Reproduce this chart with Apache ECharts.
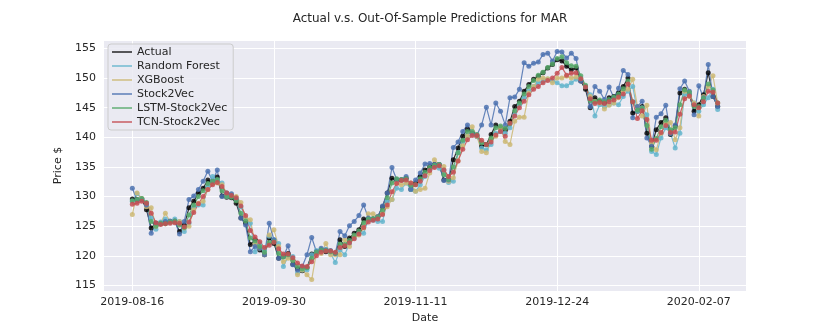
<!DOCTYPE html>
<html>
<head>
<meta charset="utf-8">
<script src="https://cdn.jsdelivr.net/npm/echarts@6/dist/echarts.min.js"></script>
<style>
  html, body { margin: 0; padding: 0; background: #fff; }
  #chart { width: 830px; height: 332px; }
</style>
</head>
<body>
<div id="chart"></div>
<script>
// trading days from 2019-08-16, 125 sessions
const START_DATE = '2019-08-16';
const N_DAYS = 125;
const HOLIDAYS = ['2019-09-02', '2019-11-28', '2019-12-25', '2020-01-01', '2020-01-20'];
const TICK_EVERY = 30;
const PAD = 6;

const ACTUAL = [
  129.6, 129.5, 129.6, 127.8, 124.7, 125.5, 125.4, 125.6, 125.8, 125.8,
  124.1, 125.2, 128.1, 129.2, 130.6, 131.4, 132.8, 132.3, 133.3, 130.1,
  129.9, 129.8, 128.9, 126.4, 125.5, 121.9, 122.7, 121.0, 120.2, 123.0,
  122.1, 119.6, 119.9, 120.4, 118.6, 117.8, 117.5, 118.0, 120.3, 120.7,
  121.0, 120.7, 120.7, 120.4, 122.7, 121.6, 123.0, 123.8, 124.4, 126.2,
  126.2, 126.2, 126.6, 128.3, 130.6, 133.1, 132.8, 132.8, 133.1, 131.2,
  132.3, 133.4, 134.5, 135.1, 135.4, 135.4, 132.8, 132.8, 136.2, 138.2,
  140.2, 141.4, 140.7, 140.2, 138.5, 138.8, 140.5, 142.1, 141.6, 141.3,
  142.7, 145.2, 146.1, 147.8, 148.9, 149.8, 150.3, 150.9, 151.7, 152.3,
  153.1, 152.9, 152.0, 151.4, 151.7, 149.5, 148.1, 145.0, 146.7, 146.1,
  145.8, 146.7, 146.9, 147.5, 148.6, 150.0, 144.1, 144.4, 145.2, 140.7,
  138.5, 141.3, 142.5, 143.3, 140.5, 141.9, 147.5, 148.1, 147.2, 144.4,
  145.5, 147.2, 150.9, 146.9, 145.2
];
const RANDOM_FOREST = [
  129.2, 130.5, 129.6, 128.9, 126.4, 124.5, 125.7, 126.2, 125.7, 126.2,
  125.8, 124.1, 125.5, 128.3, 128.6, 128.6, 131.7, 133.4, 132.8, 132.3,
  130.0, 130.1, 129.8, 128.3, 126.4, 125.5, 120.7, 122.1, 121.0, 123.3,
  122.7, 122.1, 118.2, 119.9, 119.9, 117.1, 117.6, 117.6, 120.2, 120.9,
  120.8, 121.1, 120.4, 118.9, 121.0, 120.2, 122.1, 123.0, 123.8, 123.8,
  126.1, 126.0, 125.8, 125.8, 129.2, 129.5, 131.4, 131.2, 132.3, 131.2,
  130.9, 132.0, 133.4, 134.5, 135.1, 134.8, 134.5, 132.4, 132.6, 137.4,
  139.3, 140.2, 140.5, 140.2, 138.2, 137.9, 138.8, 140.7, 141.0, 140.7,
  141.6, 143.8, 145.5, 146.7, 147.8, 148.6, 149.2, 149.5, 149.8, 149.5,
  149.2, 148.7, 148.7, 149.2, 149.8, 150.0, 148.6, 147.2, 143.6, 145.5,
  145.2, 145.5, 145.8, 145.5, 146.9, 147.8, 148.6, 144.4, 145.0, 143.8,
  137.6, 137.1, 139.9, 141.6, 140.7, 138.2, 140.7, 147.2, 147.2, 145.8,
  144.4, 145.5, 146.7, 148.1, 144.7
];
const XGBOOST = [
  127.0, 130.6, 129.7, 128.3, 128.1, 125.0, 125.5, 127.2, 125.8, 125.8,
  125.8, 124.7, 125.0, 127.8, 128.9, 129.2, 131.2, 132.3, 132.3, 132.0,
  130.6, 130.3, 130.0, 129.0, 126.4, 126.1, 122.1, 121.3, 120.2, 123.5,
  124.4, 121.6, 119.0, 119.6, 119.3, 116.8, 117.6, 116.8, 116.0, 120.6,
  120.4, 122.1, 120.2, 120.2, 120.2, 122.7, 121.6, 123.3, 123.5, 124.7,
  127.1, 127.1, 126.6, 127.2, 128.3, 129.5, 132.3, 132.0, 132.3, 132.3,
  130.9, 131.2, 131.4, 134.0, 136.2, 135.4, 135.1, 132.6, 133.2, 136.0,
  138.6, 140.2, 141.8, 140.2, 137.6, 137.4, 139.6, 140.2, 141.6, 139.3,
  138.8, 142.7, 143.4, 143.4, 147.5, 148.6, 149.8, 150.0, 149.9, 149.2,
  150.0, 150.0, 150.3, 150.0, 150.2, 149.8, 148.6, 146.9, 146.1, 145.8,
  144.8, 145.4, 145.8, 146.7, 147.8, 148.1, 149.8, 145.2, 143.6, 145.4,
  139.0, 137.9, 140.7, 142.4, 142.5, 139.6, 141.6, 147.8, 146.9, 145.8,
  143.6, 146.9, 148.6, 150.4, 145.8
];
const STOCK2VEC = [
  131.4, 129.4, 129.5, 128.6, 123.8, 125.5, 125.5, 125.8, 125.9, 125.9,
  123.7, 125.8, 129.5, 130.1, 131.2, 132.6, 134.3, 132.6, 134.5, 130.0,
  130.6, 130.5, 129.5, 126.4, 125.2, 120.7, 121.6, 121.3, 120.2, 125.5,
  122.7, 119.6, 119.9, 121.7, 118.5, 117.6, 118.2, 120.2, 123.1, 120.7,
  121.3, 121.0, 120.9, 120.4, 124.1, 123.4, 125.1, 125.8, 126.8, 128.6,
  126.4, 126.2, 126.6, 128.4, 130.6, 134.9, 132.9, 132.9, 133.4, 131.3,
  132.8, 134.0, 135.5, 135.6, 135.4, 135.4, 132.7, 132.8, 138.3, 139.2,
  141.0, 142.1, 140.7, 140.4, 142.1, 145.1, 142.1, 145.8, 144.4, 142.1,
  146.7, 146.8, 148.1, 152.6, 152.0, 152.5, 152.7, 154.0, 154.2, 152.9,
  154.5, 154.4, 153.4, 154.2, 153.3, 149.5, 148.6, 145.2, 148.6, 147.8,
  146.4, 148.5, 146.7, 148.3, 151.3, 150.6, 143.3, 145.2, 146.1, 139.9,
  138.5, 143.4, 144.0, 145.4, 140.7, 142.1, 148.2, 149.5, 147.8, 143.8,
  148.7, 146.7, 152.3, 146.9, 145.2
];
const LSTM_STOCK2VEC = [
  129.3, 129.5, 129.7, 129.0, 125.8, 125.0, 125.5, 125.4, 125.7, 125.9,
  125.2, 124.8, 126.9, 128.6, 130.0, 131.0, 132.2, 132.6, 132.9, 131.0,
  130.0, 129.9, 129.3, 127.2, 125.9, 123.0, 122.5, 121.6, 120.6, 122.2,
  122.4, 120.4, 119.8, 120.2, 119.2, 118.2, 117.8, 118.0, 119.6, 120.6,
  121.0, 120.9, 120.7, 120.5, 122.0, 121.9, 122.6, 123.5, 124.2, 125.6,
  126.2, 126.3, 126.5, 127.7, 129.8, 132.3, 133.0, 132.9, 133.0, 131.9,
  132.0, 133.0, 134.1, 134.9, 135.3, 135.4, 133.7, 132.9, 135.0, 137.4,
  139.5, 141.0, 141.0, 140.5, 139.1, 138.8, 139.9, 141.6, 141.9, 141.5,
  142.3, 144.5, 145.8, 147.3, 148.6, 149.6, 150.5, 151.0, 151.8, 152.4,
  153.3, 153.6, 152.6, 152.1, 152.0, 150.4, 148.8, 146.2, 146.0, 146.3,
  146.0, 146.4, 146.8, 147.3, 148.2, 149.5, 146.0, 144.6, 144.9, 142.0,
  138.0, 139.8, 141.8, 142.9, 141.3, 141.6, 145.5, 148.0, 147.6, 145.2,
  145.2, 146.6, 149.0, 148.0, 145.8
];
const TCN_STOCK2VEC = [
  128.7, 128.9, 129.2, 128.9, 127.2, 125.6, 125.3, 125.4, 125.5, 125.6,
  125.5, 124.9, 125.7, 127.3, 128.8, 130.0, 131.2, 132.0, 132.4, 131.7,
  130.6, 130.2, 129.8, 128.4, 126.8, 124.3, 123.2, 122.4, 121.4, 121.8,
  122.3, 121.2, 120.3, 120.3, 119.7, 118.8, 118.3, 118.2, 119.0, 120.0,
  120.6, 120.8, 120.8, 120.6, 121.4, 121.7, 122.2, 122.9, 123.7, 124.8,
  125.7, 126.0, 126.2, 127.0, 128.6, 130.8, 132.2, 132.7, 132.8, 132.3,
  132.0, 132.6, 133.5, 134.4, 134.9, 135.2, 134.5, 133.4, 134.1, 136.0,
  138.0, 139.6, 140.3, 140.3, 139.5, 138.8, 139.2, 140.4, 141.0, 140.2,
  142.4, 143.6, 145.0, 146.1, 147.2, 148.1, 148.6, 149.2, 149.6, 150.0,
  150.8, 151.8, 150.5, 150.8, 150.9, 149.9, 148.5, 146.5, 145.7, 145.9,
  145.7, 146.0, 146.3, 146.8, 147.3, 149.0, 146.0, 143.2, 144.5, 143.0,
  139.5, 139.5, 140.8, 142.0, 140.8, 140.9, 143.9, 146.5, 147.0, 145.5,
  145.0, 146.0, 147.8, 147.6, 145.8
];

const SERIES_NAMES = ['Actual', 'Random Forest', 'XGBoost', 'Stock2Vec', 'LSTM-Stock2Vec', 'TCN-Stock2Vec'];
const SERIES_VALUES = [ACTUAL, RANDOM_FOREST, XGBOOST, STOCK2VEC, LSTM_STOCK2VEC, TCN_STOCK2VEC];
const COLORS = [
  'rgba(0,0,0,0.8)',
  'rgba(100,181,205,0.85)',
  'rgba(204,185,116,0.85)',
  'rgba(76,114,176,0.85)',
  'rgba(85,168,104,0.85)',
  'rgba(196,78,82,0.85)'
];

function tradingDays(start, n) {
  const out = [];
  const d = new Date(start + 'T00:00:00Z');
  while (out.length < n) {
    const s = d.toISOString().slice(0, 10);
    const wd = d.getUTCDay();
    if (wd !== 0 && wd !== 6 && !HOLIDAYS.includes(s)) out.push(s);
    d.setUTCDate(d.getUTCDate() + 1);
  }
  return out;
}

const DATES = tradingDays(START_DATE, N_DAYS);
const CATS = [];
for (let i = 0; i < PAD; i++) CATS.push('pre' + i);
DATES.forEach(d => CATS.push(d));
for (let i = 0; i < PAD; i++) CATS.push('post' + i);

const showTick = (idx) => idx >= PAD && idx < PAD + N_DAYS && (idx - PAD) % TICK_EVERY === 0;

const TEXT = '#262626';
const FONT = 'DejaVu Sans';

const chart = echarts.init(document.getElementById('chart'), null, { renderer: 'canvas' });

const option = {
  animation: false,
  backgroundColor: '#ffffff',
  title: {
    text: 'Actual v.s. Out-Of-Sample Predictions for MAR',
    left: 425,
    textAlign: 'center',
    top: 8,
    textStyle: { fontFamily: FONT, fontSize: 12, fontWeight: 'normal', color: TEXT }
  },
  grid: {
    left: 104, right: 84, top: 40, bottom: 41,
    show: true, backgroundColor: '#EAEAF2', borderWidth: 0
  },
  legend: {
    orient: 'vertical',
    left: 108, top: 44,
    padding: [1, 6, 1, 4],
    itemGap: 0,
    itemWidth: 20, itemHeight: 1.6,
    itemStyle: { borderWidth: 0 },
    icon: 'rect',
    backgroundColor: 'rgba(234,234,242,0.85)',
    borderColor: '#cccccc', borderWidth: 1, borderRadius: 3,
    textStyle: { fontFamily: FONT, fontSize: 11, color: TEXT, lineHeight: 14 },
    data: SERIES_NAMES
  },
  xAxis: {
    type: 'category',
    data: CATS,
    boundaryGap: false,
    name: 'Date',
    nameLocation: 'middle',
    nameGap: 16,
    nameTextStyle: { fontFamily: FONT, fontSize: 11, color: TEXT },
    axisLine: { show: false },
    axisTick: { show: false, interval: showTick },
    axisLabel: { interval: showTick, fontFamily: FONT, fontSize: 11, color: TEXT, margin: 6 },
    splitLine: { show: true, interval: showTick, lineStyle: { color: '#ffffff', width: 1 } }
  },
  yAxis: {
    type: 'value',
    min: 114.07, max: 156.43,
    splitNumber: 8,
    name: 'Price $',
    nameLocation: 'middle',
    nameGap: 29,
    nameTextStyle: { fontFamily: FONT, fontSize: 11, color: TEXT },
    axisLine: { show: false },
    axisTick: { show: false },
    axisLabel: {
      fontFamily: FONT, fontSize: 11, color: TEXT, margin: 8,
      showMinLabel: false, showMaxLabel: false
    },
    splitLine: { show: true, lineStyle: { color: '#ffffff', width: 1 } }
  },
  series: SERIES_NAMES.map((name, k) => ({
    name: name,
    type: 'line',
    data: DATES.map((d, i) => [d, SERIES_VALUES[k][i]]),
    symbol: 'circle',
    symbolSize: 5,
    showSymbol: true,
    showAllSymbol: true,
    color: COLORS[k],
    lineStyle: { width: 1.2, color: COLORS[k] },
    itemStyle: { color: COLORS[k], borderWidth: 0 },
    emphasis: { disabled: true }
  }))
};

chart.setOption(option);
</script>
</body>
</html>
